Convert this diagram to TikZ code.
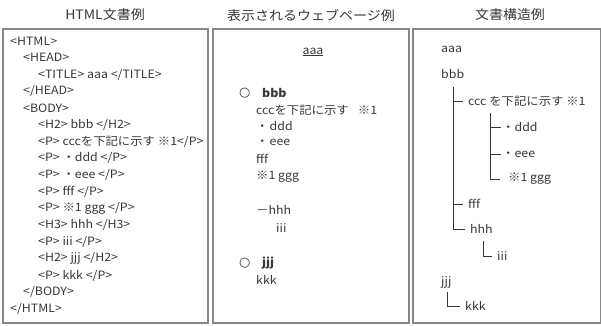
\documentclass[tikz,border=0pt]{standalone}
\usepackage{fontspec}
\setmainfont{Noto Sans CJK JP}[FakeStretch=1.08]
\newfontfamily\symfont{DejaVu Sans}
\definecolor{txt}{RGB}{55,55,55}
\definecolor{framegray}{RGB}{135,135,135}
\begin{document}
\begin{tikzpicture}[x=1bp,y=-1bp,
  frame/.style={draw=framegray, line width=1.3bp},
  title/.style={font=\fontsize{13}{15}\selectfont, text=txt, inner sep=0},
  code/.style={font=\fontsize{11.5}{13}\selectfont, text=txt, anchor=west, inner sep=0},
  circ/.style={font=\symfont\bfseries\fontsize{13}{14}\selectfont, text=txt, anchor=west, inner sep=0},
  tline/.style={draw=txt, line width=0.9bp}]
\useasboundingbox (0,0) rectangle (601,325);
% frames
\draw[frame] (3,29) rectangle (208,323);
\draw[frame] (213,29) rectangle (409,323);
\draw[frame] (413,29) rectangle (600.5,323);
% titles
\node[title] (t1) at (105,15) {HTML文書例};
\node[title] (t2) at (311,15) {表示されるウェブページ例};
\node[title] (t3) at (510,15) {文書構造例};
% box 1: HTML source
\node[code] (h1)  at (10, 41.00) {<HTML>};
\node[code] (h2)  at (23, 57.75) {<HEAD>};
\node[code] (h3)  at (38, 74.50) {<TITLE> aaa </TITLE>};
\node[code] (h4)  at (23, 91.25) {</HEAD>};
\node[code] (h5)  at (23,108.00) {<BODY>};
\node[code] (h6)  at (38,124.75) {<H2> bbb </H2>};
\node[code] (h7)  at (38,141.50) {<P> cccを下記に示す ※1</P>};
\node[code] (h8)  at (38,158.25) {<P> ・ddd </P>};
\node[code] (h9)  at (38,175.00) {<P> ・eee </P>};
\node[code] (h10) at (38,191.75) {<P> fff </P>};
\node[code] (h11) at (38,208.50) {<P> ※1 ggg </P>};
\node[code] (h12) at (38,225.25) {<H3> hhh </H3>};
\node[code] (h13) at (38,242.00) {<P> iii </P>};
\node[code] (h14) at (38,258.75) {<H2> jjj </H2>};
\node[code] (h15) at (38,275.50) {<P> kkk </P>};
\node[code] (h16) at (23,292.25) {</BODY>};
\node[code] (h17) at (10,309.00) {</HTML>};
% box 2: rendered page
\node[code, anchor=center] (p1) at (313,52) {\underline{aaa}};
\node[circ] (p2a) at (239,93) {○};
\node[code] (p2) at (262,93) {\bfseries bbb};
\node[code] (p3) at (256,110) {cccを下記に示す\hspace{0.8em}※1};
\node[code] (p4) at (256,126) {・\hspace{0.1em}ddd};
\node[code] (p5) at (256,142) {・\hspace{0.1em}eee};
\node[code] (p6) at (256,159) {fff};
\node[code] (p7) at (256,177) {※1 ggg};
\node[code] (p8) at (256,210) {－hhh};
\node[code] (p9) at (276,228) {iii};
\node[circ] (p10a) at (239,263) {○};
\node[code] (p10) at (262,263) {\bfseries jjj};
\node[code] (p11) at (256,280) {kkk};
% box 3: structure tree
\node[code] (s1) at (441,49) {aaa};
\node[code] (s2) at (441,74) {bbb};
\node[code] (s3) at (468,101) {ccc を下記に示す ※1};
\node[code] (s4) at (502,127) {・ddd};
\node[code] (s5) at (502,154) {・eee};
\node[code] (s6) at (508,179) {※1 ggg};
\node[code] (s7) at (468,204) {fff};
\node[code] (s8) at (470,229) {hhh};
\node[code] (s9) at (497,256) {iii};
\node[code] (s10) at (441,282) {jjj};
\node[code] (s11) at (465,306) {kkk};
\coordinate (v1) at (453,87);
\coordinate (v2) at (490,113);
\coordinate (v3) at (483,241);
\coordinate (v4) at (447,292);
\draw[tline] (v1) |- ([xshift=-5bp]s8.west);
\draw[tline] (v1 |- s3) -- ([xshift=-5bp]s3.west);
\draw[tline] (v1 |- s7) -- ([xshift=-5bp]s7.west);
\draw[tline] (v2) |- ([xshift=-8bp]s6.west);
\draw[tline] (v2 |- s4) -- ([xshift=-1bp]s4.west);
\draw[tline] (v2 |- s5) -- ([xshift=-1bp]s5.west);
\draw[tline] (v3) |- ([xshift=-5bp]s9.west);
\draw[tline] (v4) |- ([xshift=-5bp]s11.west);
\end{tikzpicture}
\end{document}
